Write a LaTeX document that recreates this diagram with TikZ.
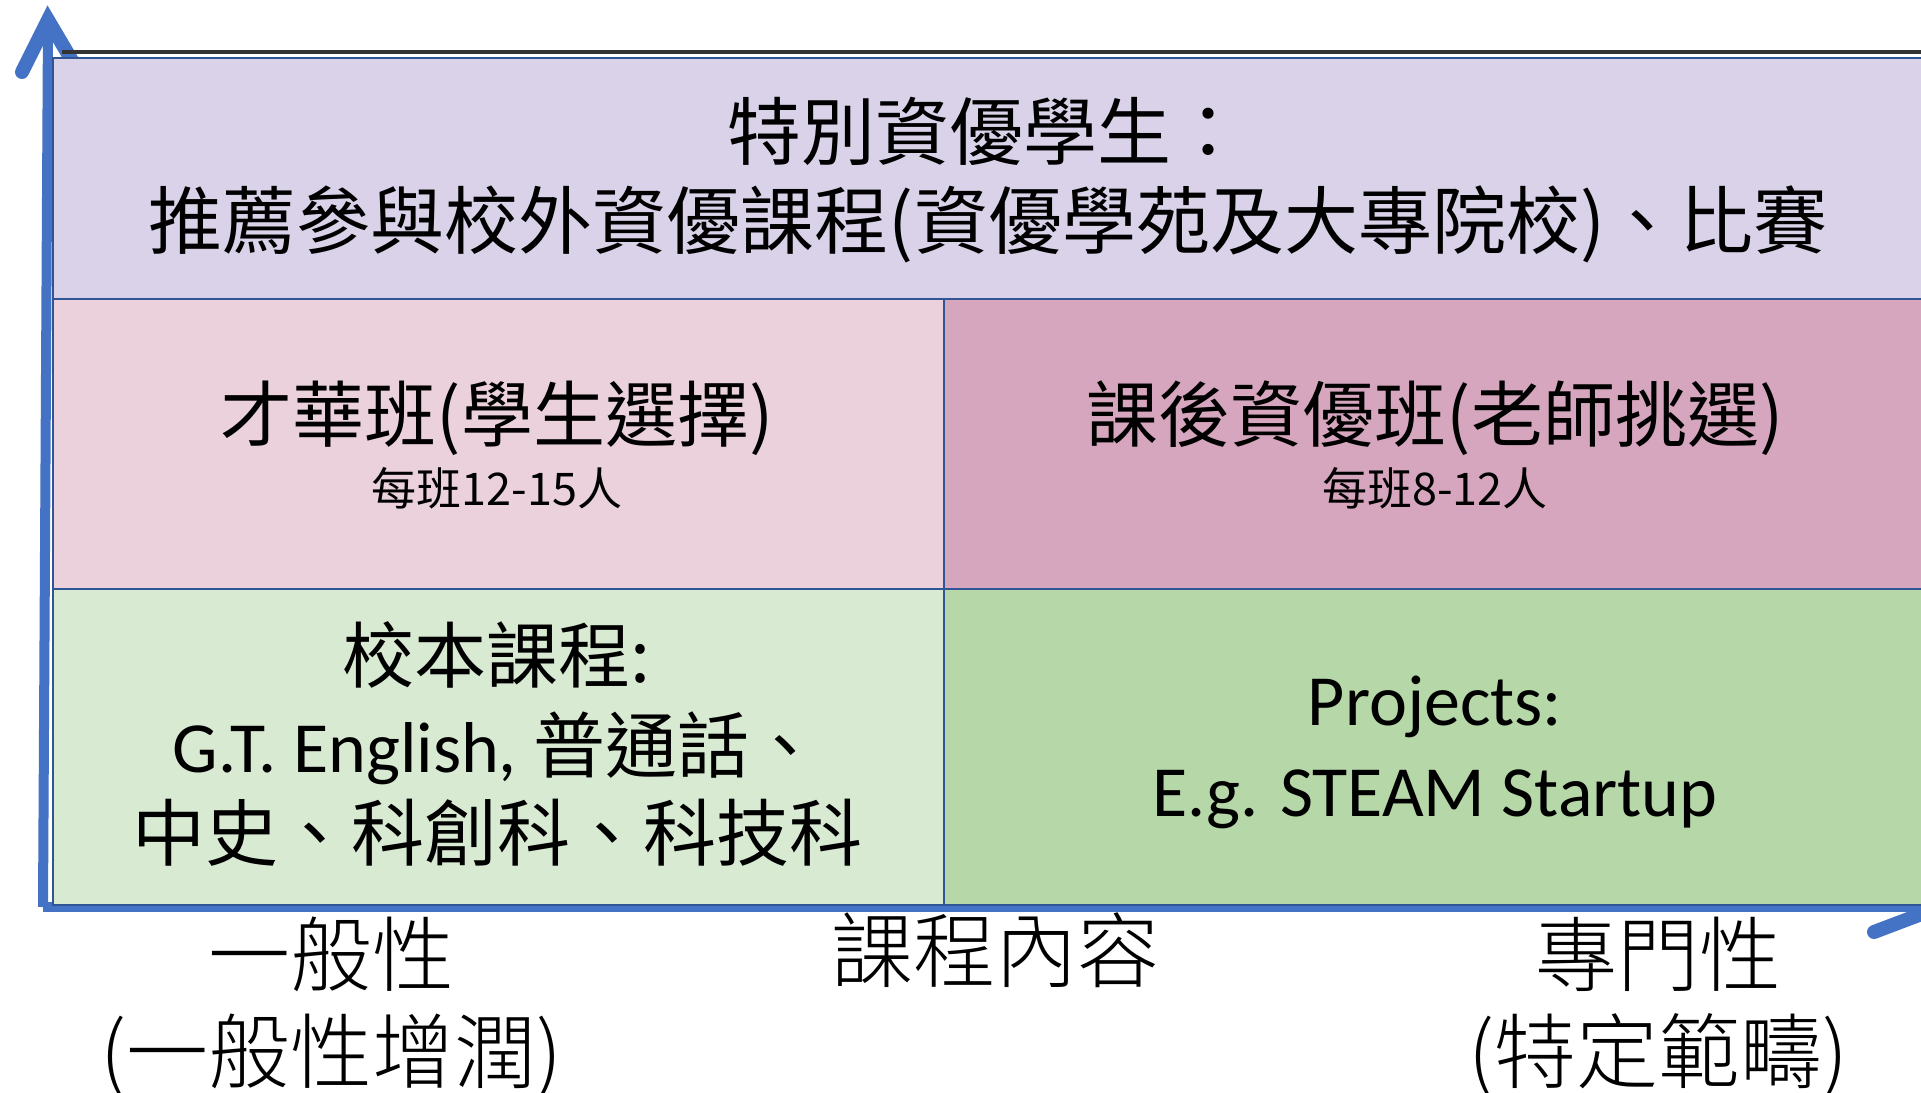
\documentclass[tikz,border=0pt]{standalone}
\usepackage{fontspec}
\setmainfont{Carlito}
\newfontfamily\cjk{Noto Sans CJK TC}
\newfontfamily\cjkl{Noto Sans CJK TC Light}
\definecolor{lav}{HTML}{D9D2E9}
\definecolor{pinkL}{HTML}{EAD1DC}
\definecolor{pinkR}{HTML}{D5A6BD}
\definecolor{greenL}{HTML}{D9EAD3}
\definecolor{greenR}{HTML}{B6D7A8}
\definecolor{bordc}{HTML}{2F5597}
\definecolor{axisc}{HTML}{4472C4}
\begin{document}
\begin{tikzpicture}[x=0.5pt,y=-0.5pt,
  cell/.style={draw=bordc, line width=1pt, inner sep=0pt, anchor=north west},
  axisline/.style={draw=axisc, line width=5pt},
  axishead/.style={draw=axisc, line width=7pt, line cap=round, line join=miter},
  bigtxt/.style={font=\cjk\fontsize{36}{44}\selectfont, anchor=base, inner sep=0pt},
  toptxt/.style={font=\cjk\fontsize{37}{44}\selectfont, anchor=base, inner sep=0pt},
  smalltxt/.style={font=\cjk\fontsize{22.5}{27}\selectfont, anchor=base, inner sep=0pt},
  lattxt/.style={font=\fontsize{36}{44}\selectfont, anchor=base, inner sep=0pt},
  axtxt/.style={font=\cjkl\fontsize{41}{48}\selectfont, anchor=base, inner sep=0pt}]
\clip (0,0) rectangle (1921,1092);
\fill[white] (0,0) rectangle (1921,1092);
% axes
\coordinate (origin) at (43,907);
\coordinate (ytip) at (48,20);
\coordinate (xtip) at (1940,907);
\draw[axisline] (origin) -- (ytip);
\draw[axisline] (origin) -- (xtip);
\draw[axishead] (22,72) -- (ytip) -- (74,64);
\draw[axishead] (1874,932) -- (xtip) -- (1874,882);
% top dark line
\coordinate (tl) at (62,52);
\coordinate (tr) at (1930,52);
\draw[line width=2pt, black!80] (tl) -- (tr);
% cells
\node[cell, fill=lav, minimum width=940pt, minimum height=120.5pt] (top) at (52,57) {};
\node[cell, fill=pinkL, minimum width=445.5pt, minimum height=145pt] (talent) at (52,298) {};
\node[cell, fill=pinkR, minimum width=495pt, minimum height=145pt] (after) at (943,298) {};
\node[cell, fill=greenL, minimum width=445.5pt, minimum height=158pt] (school) at (52,588) {};
\node[cell, fill=greenR, minimum width=495pt, minimum height=158pt] (proj) at (943,588) {};
% texts
\node[toptxt] (t1) at (986,159) {特別資優學生：};
\node[toptxt] (t2) at (988,248) {推薦參與校外資優課程(資優學苑及大專院校)、比賽};
\node[bigtxt] (p1) at (497,441) {才華班(學生選擇)};
\node[smalltxt] (p1s) at (497,505) {每班12-15人};
\node[bigtxt] (p2) at (1435,441) {課後資優班(老師挑選)};
\node[smalltxt] (p2s) at (1435,505) {每班8-12人};
\node[bigtxt] (g1) at (497,682) {校本課程:};
\node[bigtxt] (g2) at (497,772) {{\fontspec{Carlito}G.T. English,} 普通話、};
\node[bigtxt, font=\cjk\fontsize{36.5}{44}\selectfont] (g3) at (497,860) {中史、科創科、科技科};
\node[lattxt] (r1) at (1435,725) {Projects:};
\node[lattxt] (r2) at (1435,816) {E.g. STEAM Startup};
% axis labels
\node[axtxt] (a1) at (331,985) {一般性};
\node[axtxt] (a1b) at (331,1082) {(一般性增潤)};
\node[axtxt] (a2) at (995,981) {課程內容};
\node[axtxt] (a3) at (1658,985) {專門性};
\node[axtxt] (a3b) at (1658,1082) {(特定範疇)};
\end{tikzpicture}
\end{document}
